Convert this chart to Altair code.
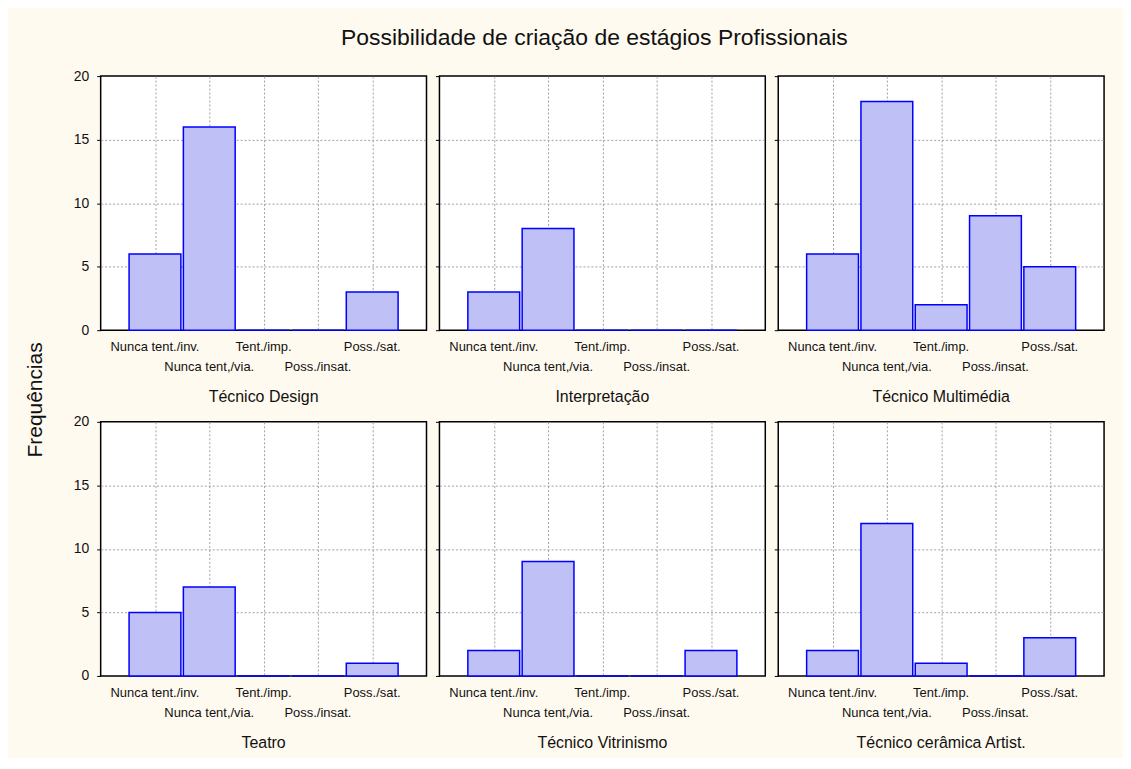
import altair as alt
import pandas as pd

categories = ["Nunca tent./inv.", "Nunca tent,/via.", "Tent./imp.", "Poss./insat.", "Poss./sat."]
panels = ["Técnico Design", "Interpretação", "Técnico Multimédia",
          "Teatro", "Técnico Vitrinismo", "Técnico cerâmica Artist."]
tecnico_design = [6, 16, 0, 0, 3]
interpretacao = [3, 8, 0, 0, 0]
tecnico_multimedia = [6, 18, 2, 9, 5]
teatro = [5, 7, 0, 0, 1]
tecnico_vitrinismo = [2, 9, 0, 0, 2]
tecnico_ceramica = [2, 12, 1, 0, 3]
series = [tecnico_design, interpretacao, tecnico_multimedia,
          teatro, tecnico_vitrinismo, tecnico_ceramica]

rows = []
for p, vals in zip(panels, series):
    for i, (c, v) in enumerate(zip(categories, vals)):
        rows.append({"panel": p, "cat": c, "idx": i + 1, "value": v})
df = pd.DataFrame(rows)

W, H = 327, 255
SANS = "Liberation Sans"

xscale = alt.Scale(domain=[0, 6], nice=False, zero=False)
yscale = alt.Scale(domain=[0, 20], nice=False)


def panel_chart(name, first_col):
    yaxis = alt.Axis(values=[0, 5, 10, 15, 20], grid=True, gridDash=[2, 2],
                     gridColor="#A0A0A0",
                     gridOpacity={"condition": {"test": "datum.value === 0 || datum.value === 20",
                                                "value": 0}, "value": 1},
                     domain=False, tickSize=4, tickColor="black",
                     labels=first_col, labelPadding=8, labelFont=SANS, labelFontSize=14,
                     labelColor="#111", minExtent=30 if first_col else 4,
                     maxExtent=30 if first_col else 4, title=None)
    bars = alt.Chart().transform_calculate(
        x1="datum.idx - 0.477", x2="datum.idx + 0.477"
    ).mark_rect(fill="#BEC0F6", stroke="#0000FF", strokeWidth=1.5).encode(
        x=alt.X("x1:Q", scale=xscale,
                axis=alt.Axis(values=[1, 2, 3, 4, 5], labels=False, ticks=False, domain=False,
                              grid=True, gridDash=[2, 2], gridColor="#A0A0A0", title=None)),
        x2="x2:Q",
        y=alt.Y("value:Q", scale=yscale, axis=yaxis),
        y2=alt.Y2(datum=0),
    )
    lab1 = alt.Chart().mark_text(font=SANS, fontSize=13, baseline="middle", color="#111").encode(
        x=alt.X("idx:Q", scale=xscale),
        y=alt.value(H + 17),
        text="cat:N",
    ).transform_filter("datum.idx % 2 == 1")
    lab2 = alt.Chart().mark_text(font=SANS, fontSize=13, baseline="middle", color="#111").encode(
        x=alt.X("idx:Q", scale=xscale),
        y=alt.value(H + 37),
        text="cat:N",
    ).transform_filter("datum.idx % 2 == 0")
    ptitle = alt.Chart().mark_text(font=SANS, fontSize=16, baseline="middle", color="#111").encode(
        x=alt.value(W / 2),
        y=alt.value(H + 67),
        text="panel:N",
    ).transform_filter("datum.idx == 3")
    return alt.layer(bars, lab1, lab2, ptitle, data=df).transform_filter(
        alt.datum.panel == name
    ).properties(width=W, height=H)


grid = alt.concat(
    *[panel_chart(p, i % 3 == 0) for i, p in enumerate(panels)],
    columns=3,
    spacing={"row": 92, "column": 13},
    bounds="flush",
)

ylab_df = pd.DataFrame({"t": ["Frequências"]})
ylab = alt.Chart(ylab_df).mark_text(angle=270, font=SANS, fontSize=21, baseline="middle",
                                   align="center", color="#111").encode(
    x=alt.value(27), y=alt.value(325), text="t:N"
).properties(width=60, height=602,
             view=alt.ViewBackground(stroke="transparent", fill="transparent"))

chart = alt.hconcat(ylab, grid, spacing=0).properties(
    title=alt.TitleParams("Possibilidade de criação de estágios Profissionais",
                          font=SANS, fontSize=23, fontWeight="normal", color="#111",
                          anchor="middle", offset=18, dx=38),
    padding={"top": 18, "left": 0, "right": 18, "bottom": 5},
    background="#FFFAEF",
).configure_view(
    fill="white", stroke="black", strokeWidth=1.5
)

chart.save("out.html", embed_options={"renderer": "svg", "actions": False})
